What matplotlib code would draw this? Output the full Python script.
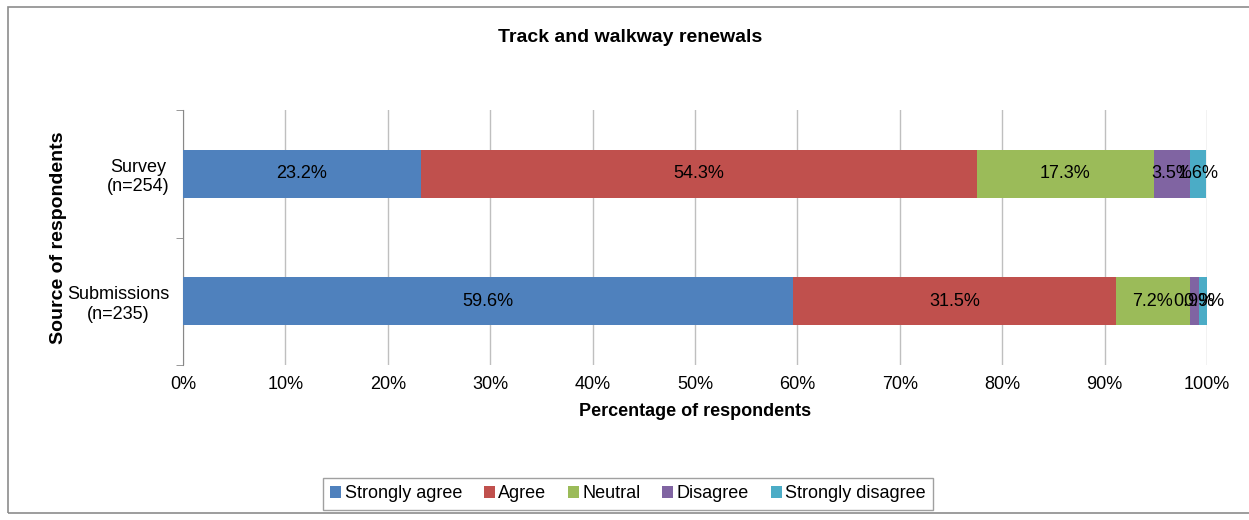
import numpy as np
import matplotlib.pyplot as plt
from matplotlib.patches import Rectangle

plt.rcParams['font.family'] = ['Liberation Sans', 'DejaVu Sans']

categories = ['Submissions\n(n=235)', 'Survey\n(n=254)']
series = ['Strongly agree', 'Agree', 'Neutral', 'Disagree', 'Strongly disagree']
colors = ['#4F81BD', '#C0504D', '#9BBB59', '#8064A2', '#4BACC6']
submissions = [59.6, 31.5, 7.2, 0.9, 0.9]
survey = [23.2, 54.3, 17.3, 3.5, 1.6]

values = np.array([submissions, survey])

fig = plt.figure(figsize=(12.49, 5.2), dpi=100)
ax = fig.add_axes([183 / 1249, 1 - 365 / 520, (1207 - 183) / 1249, (365 - 110) / 520])

fig.patches.append(Rectangle((8 / 1249, 1 - 513 / 520), 1.2, 506 / 520, transform=fig.transFigure,
                             fill=False, edgecolor='#8c8c8c', linewidth=1.2))

y = np.arange(len(categories))
left = np.zeros(len(categories))
for i, name in enumerate(series):
    bars = ax.barh(y, values[:, i], left=left, height=0.38, color=colors[i], label=name, zorder=3)
    for j, b in enumerate(bars):
        v = values[j, i]
        ax.text(left[j] + v / 2, y[j], f'{v:.1f}%', ha='center', va='center', fontsize=13,
                color='#000000', zorder=4)
    left += values[:, i]

ax.set_xlim(0, 100)
ax.set_ylim(-0.5, 1.5)
ax.set_xticks(np.arange(0, 101, 10))
ax.set_xticklabels([f'{t}%' for t in range(0, 101, 10)], fontsize=13)
ax.set_yticks(y)
ax.set_yticklabels(categories, fontsize=13, multialignment='center')
ax.set_yticks([-0.5, 0.5, 1.5], minor=True)
ax.tick_params(axis='y', which='major', length=0, pad=10)
ax.tick_params(axis='y', which='minor', length=5, color='#888888')
ax.tick_params(axis='x', length=0, pad=8)
ax.grid(axis='x', color='#bfbfbf', linewidth=1, zorder=0)
for s in ['top', 'right', 'bottom']:
    ax.spines[s].set_visible(False)
ax.spines['left'].set_color('#888888')

ax.set_xlabel('Percentage of respondents', fontsize=13, fontweight='bold', labelpad=7)
ax.set_ylabel('Source of respondents', fontsize=14, fontweight='bold', labelpad=0)
fig.text(630 / 1249, 1 - 37 / 520, 'Track and walkway renewals', ha='center', va='center',
         fontsize=14, fontweight='bold')

leg = fig.legend(loc='center', bbox_to_anchor=(628 / 1249, 1 - 494 / 520), ncol=5, fontsize=13,
                 frameon=True, fancybox=False, edgecolor='#888888', handlelength=0.6,
                 handleheight=0.6, handletextpad=0.2, columnspacing=1.2, borderpad=0.4)
leg.get_frame().set_linewidth(1)

fig.savefig('out.png', dpi=100)
